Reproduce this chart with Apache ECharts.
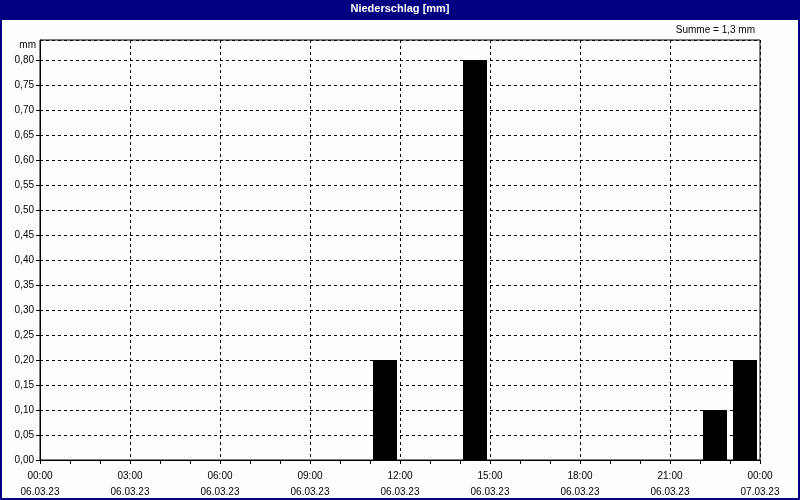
<!DOCTYPE html>
<html>
  <head>
    <meta charset="utf-8" />
    <title>Niederschlag</title>
    <script src="https://cdn.jsdelivr.net/npm/echarts@6/dist/echarts.min.js"></script>
    <style>
      body { margin: 0; }
    </style>
  </head>
  <body>
    <div id="chart" style="width: 800px; height: 500px;"></div>
    <script>
      // hourly precipitation, value belongs to the hour ending at hourEnd
      var hourEnd = [12, 15, 23, 24]
      var amount = [0.2, 0.8, 0.1, 0.2]
      var timeLabels = ['00:00', '03:00', '06:00', '09:00', '12:00', '15:00', '18:00', '21:00', '00:00']
      var dateLabels = ['06.03.23', '06.03.23', '06.03.23', '06.03.23', '06.03.23', '06.03.23', '06.03.23', '06.03.23', '07.03.23']
      var summeText = 'Summe = 1,3 mm'

      var seriesData = []
      for (var i = 0; i < hourEnd.length; i++) {
        seriesData.push([hourEnd[i] - 0.5, amount[i]])
      }

      var font = 'Liberation Sans'
      var myChart = echarts.init(document.getElementById('chart'))
      var option = {
        backgroundColor: '#fdfffd',
        animation: false,
        textStyle: { fontFamily: font },
        title: [
          {
            text: 'Niederschlag [mm]',
            left: 'center',
            top: 3,
            padding: 0,
            textStyle: { color: '#fff', fontSize: 11, fontWeight: 'bold', fontFamily: font }
          },
          {
            text: summeText,
            right: 45,
            top: 25,
            padding: 0,
            textStyle: { color: '#000', fontSize: 10, fontWeight: 'normal', fontFamily: font }
          }
        ],
        graphic: [
          {
            type: 'rect',
            z: -1,
            shape: { x: 0, y: 0, width: 800, height: 20 },
            style: { fill: '#000080' }
          },
          {
            type: 'rect',
            z: 100,
            shape: { x: 0, y: 0, width: 800, height: 500 },
            style: { fill: 'none', stroke: '#000080', lineWidth: 4 }
          },
          {
            type: 'text',
            right: 764,
            top: 40,
            style: { text: 'mm', fill: '#000', font: '10px ' + font }
          }
        ],
        grid: {
          left: 40,
          right: 40,
          top: 40,
          bottom: 40,
          show: true,
          borderColor: '#000',
          borderWidth: 1,
          backgroundColor: 'transparent'
        },
        xAxis: {
          type: 'value',
          min: 0,
          max: 24,
          interval: 3,
          axisLine: { show: true, onZero: false, lineStyle: { color: '#000' } },
          axisTick: { show: true, length: 4, lineStyle: { color: '#000' } },
          minorTick: { show: true, splitNumber: 3, length: 4, lineStyle: { color: '#000' } },
          splitLine: { show: true, lineStyle: { color: '#000', type: [3, 3] } },
          axisLabel: {
            color: '#000',
            fontSize: 10,
            lineHeight: 16,
            margin: 8,
            formatter: function (v) {
              var k = Math.round(v / 3)
              return timeLabels[k] + '\n' + dateLabels[k]
            }
          }
        },
        yAxis: {
          type: 'value',
          min: 0,
          max: 0.84,
          interval: 0.05,
          axisLine: { show: true, lineStyle: { color: '#000' } },
          axisTick: { show: true, length: 4, lineStyle: { color: '#000' } },
          splitLine: { show: true, lineStyle: { color: '#000', type: [3, 3] } },
          axisLabel: {
            color: '#000',
            fontSize: 10,
            margin: 6,
            showMaxLabel: false,
            formatter: function (v) {
              if (v > 0.81) return ''
              return v.toFixed(2).replace('.', ',')
            }
          }
        },
        series: [
          {
            type: 'bar',
            data: seriesData,
            barWidth: 24,
            itemStyle: { color: '#000' }
          }
        ]
      }
      option && myChart.setOption(option)
    </script>
  </body>
</html>
